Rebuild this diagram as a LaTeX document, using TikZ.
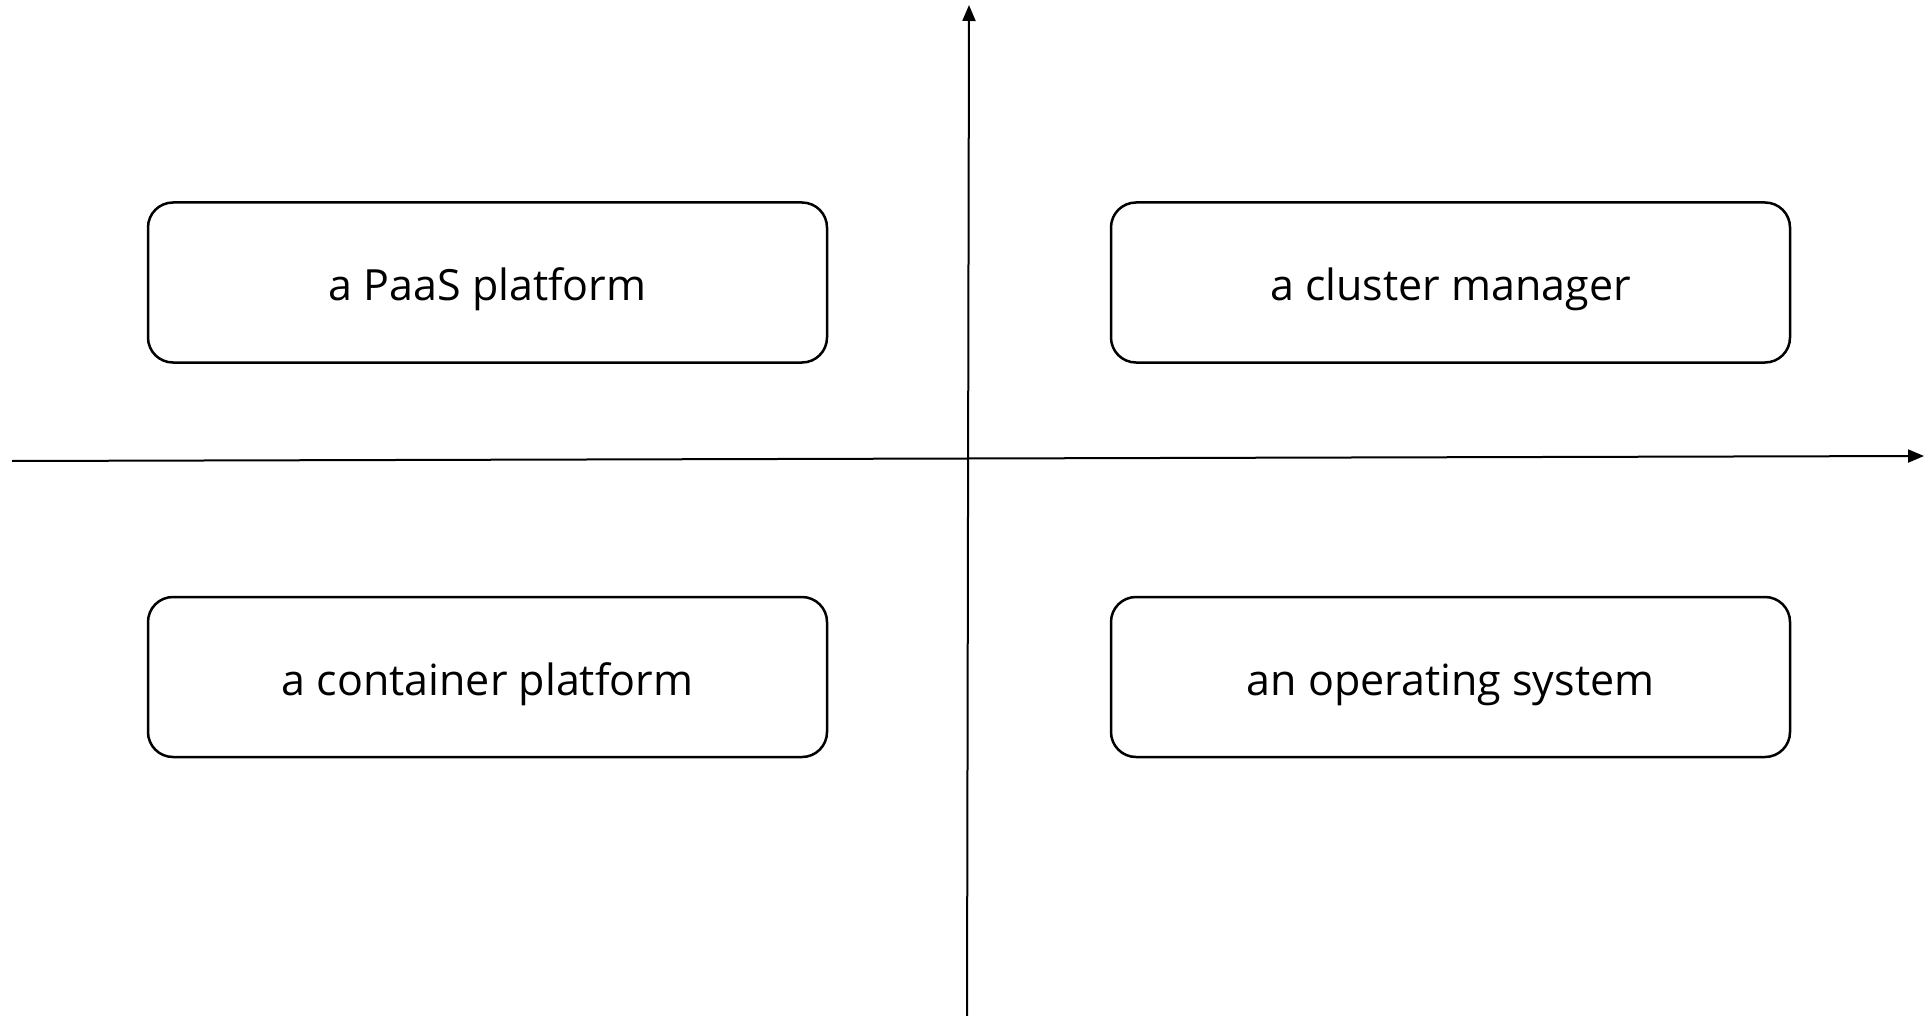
\documentclass[tikz,border=0pt]{standalone}
\usepackage{fontspec}
\setmainfont{Open Sans}
\usetikzlibrary{arrows.meta}
\begin{document}
\begin{tikzpicture}[x=1pt,y=-1pt,
    box/.style={draw,line width=2.5pt,rounded corners=25pt,
      minimum width=679pt,minimum height=160pt,
      text height=36pt,text depth=0pt,
      font=\fontsize{43}{52}\selectfont},
    axis/.style={line width=2pt,-{Triangle[length=16pt,width=13pt]}}]
    \useasboundingbox (0,0) rectangle (1924,1016);
    % the four quadrants
    \node[box] (paas) at (487.5,282.5) {a PaaS platform};
    \node[box] (cluster) at (1450.5,282.5) {a cluster manager};
    \node[box] (container) at (487.5,677) {a container platform};
    \node[box] (os) at (1450.5,677) {an operating system};
    % axes
    \coordinate (left) at (12,461);
    \coordinate (right) at (1924,456);
    \coordinate (bottom) at (967,1016);
    \coordinate (top) at (969,5);
    \draw[axis] (left) -- (right);
    \draw[axis] (bottom) -- (top);
\end{tikzpicture}
\end{document}
